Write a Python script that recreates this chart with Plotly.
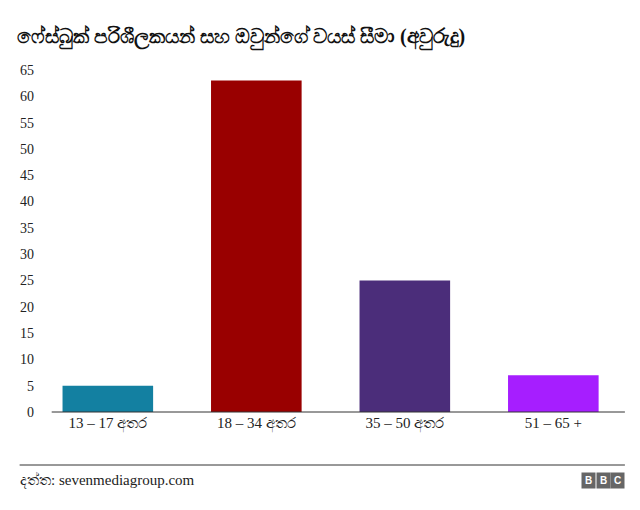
import plotly.graph_objects as go

categories = ["13 – 17 අතර", "18 – 34 අතර", "35 – 50 අතර", "51 – 65 +"]
values = [5, 63, 25, 7]
colors = ["#1380A1", "#990000", "#4B2D7A", "#A61EFF"]
yticks = list(range(0, 70, 5))

fig = go.Figure(go.Bar(x=categories, y=values, marker_color=colors, marker_line_width=0))
fig.update_layout(
    width=640, height=510, margin=dict(l=23, r=13, t=62, b=106),
    paper_bgcolor="white", plot_bgcolor="white", showlegend=False, bargap=0.39,
    font=dict(family="Liberation Serif", size=15, color="#222"),
    title=dict(text="<b>ෆේස්බුක් පරිශීලකයන් සහ ඔවුන්ගේ වයස් සීමා (අවුරුදු)</b>",
               x=0.014, xanchor="left", y=0.945, yanchor="middle",
               font=dict(size=20, color="#111")),
)
fig.update_xaxes(showline=False, ticks="", tickfont=dict(size=15), range=[-0.45, 3.55])
fig.update_yaxes(range=[0, 65], tickvals=yticks, showgrid=False, showline=False,
                 tickfont=dict(size=14), ticks="", ticklabelstandoff=6)
fig.add_shape(type="line", xref="paper", yref="paper", x0=0.018, x1=0.983, y0=0, y1=0,
              line=dict(color="#333", width=1))
fig.add_shape(type="line", xref="paper", yref="paper", x0=-0.036, x1=0.983, y0=-0.155, y1=-0.155,
              line=dict(color="#333", width=1))
fig.add_annotation(text="දත්ත: sevenmediagroup.com", xref="paper", yref="paper", x=-0.038, y=-0.2,
                   xanchor="left", yanchor="middle", showarrow=False, font=dict(size=15))
for i, ch in enumerate("BBC"):
    fig.add_annotation(text=f"<b>{ch}</b>", xref="paper", yref="paper", x=0.983 - (2 - i)*0.024, y=-0.2,
                       xanchor="right", yanchor="middle", showarrow=False, bgcolor="#666",
                       font=dict(family="Arial", size=10, color="white"), width=11, height=13)
fig.write_html("out.html")
